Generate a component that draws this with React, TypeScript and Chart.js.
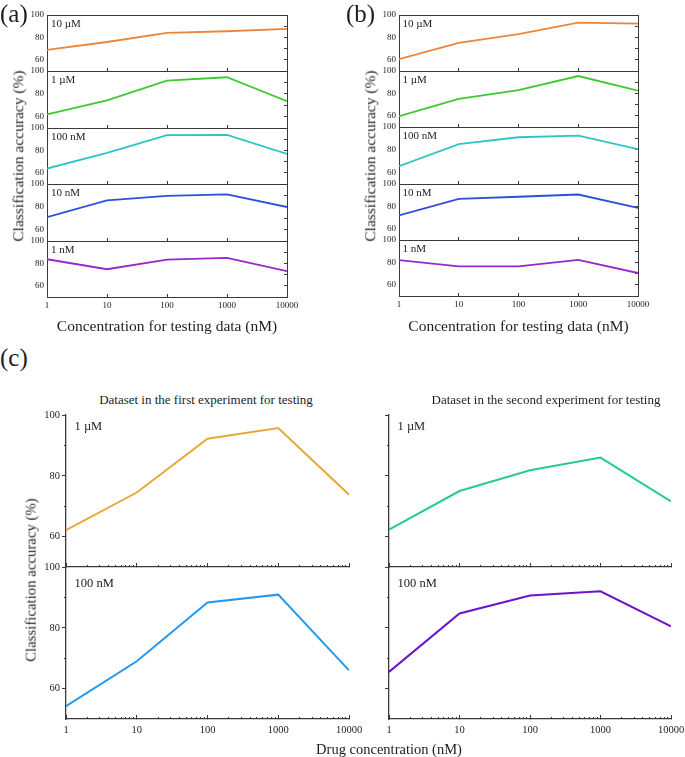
import React, { useEffect, useRef } from "react";
import { Chart, registerables } from "chart.js";

Chart.register(...registerables);

// ---------- data ----------
const CONCENTRATIONS = [1, 10, 100, 1000, 10000];
const X_TICK_LABELS = ["1", "10", "100", "1000", "10000"];
const Y_MAJOR_TICKS = [60, 80, 100];
const Y_MINOR_TICKS = [70, 90];
const Y_RIGHT_TICKS = [60, 70, 80, 90];
const X_MIN = 1;
const X_MAX = 10000;
const Y_MIN = 50;
const Y_MAX = 100;

const TRAIN_LABELS = ["10 µM", "1 µM", "100 nM", "10 nM", "1 nM"];

// panel (a)
const A_10uM = [68.8, 75.9, 84.0, 85.5, 87.6];
const A_1uM = [62.0, 74.3, 91.6, 94.5, 73.5];
const A_100nM = [63.8, 77.8, 93.6, 93.9, 76.9];
const A_10nM = [71.0, 85.6, 89.5, 90.9, 79.8];
const A_1nM = [83.7, 74.8, 83.4, 84.9, 73.0];

// panel (b)
const B_10uM = [60.5, 75.2, 83.0, 93.2, 92.3];
const B_1uM = [59.7, 75.2, 83.0, 95.5, 82.4];
const B_100nM = [65.7, 85.0, 91.0, 92.5, 80.5];
const B_10nM = [72.0, 86.8, 88.6, 90.6, 78.6];
const B_1nM = [82.0, 76.5, 76.5, 82.2, 70.5];

// panel (c)
const C_FIRST_1uM = [62.1, 74.5, 92.2, 95.7, 73.8];
const C_FIRST_100nM = [54.2, 69.0, 88.3, 90.9, 66.0];
const C_SECOND_1uM = [62.3, 75.0, 81.8, 86.0, 71.6];
const C_SECOND_100nM = [65.5, 84.7, 90.6, 92.0, 80.5];

const C_LABELS = ["1 µM", "100 nM"];

const AB_COLORS = ["#EE8536", "#3BCB2E", "#2EC5C7", "#2D4FDC", "#9A27C9"];
const C_COLORS = { first1uM: "#E5A93A", first100nM: "#2299EE", second1uM: "#25CC8C", second100nM: "#6A14CC" };

// ---------- layout ----------
const FONT = "'Liberation Serif', 'Times New Roman', serif";
const ROWS_A = [15, 71, 128, 184, 241, 297];
const ROWS_B = [15, 71, 127, 184, 240, 296];

type Spec = {
  id: string;
  values: number[];
  color: string;
  label: string;
  left: number;
  top: number;
  width: number;
  height: number;
  style: "box" | "open";
  showX: boolean;
  showY: boolean;
  labelDx: number;
  labelDy: number;
};

function geometry(s: Spec) {
  const box = s.style === "box";
  const L = box ? 30 : 40;
  const T = 8;
  const R = 22;
  const XH = s.showX ? 24 : 0;
  const PB = s.showX ? 0 : 3;
  return { L, T, R, XH, PB, cw: L + s.width + R, ch: T + s.height + XH + PB };
}

const labelPlugin = {
  id: "subLabel",
  afterDraw(chart: any, _args: any, opts: any) {
    const { ctx, chartArea } = chart;
    ctx.save();
    ctx.font = opts.font;
    ctx.fillStyle = opts.color;
    ctx.textAlign = "left";
    ctx.textBaseline = "alphabetic";
    ctx.fillText(opts.text, chartArea.left + opts.dx, chartArea.top + opts.dy);
    ctx.restore();
  },
};

function buildConfig(s: Spec): any {
  const box = s.style === "box";
  const g = geometry(s);
  const axisColor = "#3a3a3a";
  const textColor = "#222";
  const bw = box ? 1 : 1.3;
  const tickFont = { family: FONT, size: box ? 9 : 10.5 };
  const zeroPad = (sc: any) => {
    sc.paddingLeft = 0;
    sc.paddingRight = 0;
    sc.paddingTop = 0;
    sc.paddingBottom = 0;
  };
  const fixW = (w: number) => (sc: any) => {
    sc.width = w;
    zeroPad(sc);
  };
  const fixH = (h: number) => (sc: any) => {
    sc.height = h;
    zeroPad(sc);
  };
  const setTicks = (vals: number[]) => (sc: any) => {
    sc.ticks = vals.map((v) => ({ value: v }));
  };
  const minorX: number[] = [];
  for (let i = 0; i < CONCENTRATIONS.length - 1; i++) {
    for (let m = 2; m < 10; m++) minorX.push(CONCENTRATIONS[i] * m);
  }
  const logBase = { type: "logarithmic", axis: "x", min: X_MIN, max: X_MAX, display: true };
  const linBase = { type: "linear", axis: "y", min: Y_MIN, max: Y_MAX, display: true };
  const scales: any = {
    x: {
      ...logBase,
      position: "bottom",
      weight: 1,
      afterBuildTicks: setTicks(CONCENTRATIONS),
      afterFit: fixH(g.XH),
      ticks: {
        display: s.showX,
        autoSkip: false,
        maxRotation: 0,
        minRotation: 0,
        font: tickFont,
        color: textColor,
        padding: box ? 6 : 9,
        callback: (v: any) => {
          const i = CONCENTRATIONS.indexOf(Number(v));
          return i >= 0 ? X_TICK_LABELS[i] : "";
        },
      },
      grid: { drawOnChartArea: false, drawTicks: true, tickLength: box ? -3 : -4, tickColor: axisColor, tickWidth: 1 },
      border: { display: true, color: axisColor, width: bw },
    },
    y: {
      ...linBase,
      position: "left",
      weight: 1,
      afterBuildTicks: setTicks(Y_MAJOR_TICKS),
      afterFit: fixW(g.L),
      ticks: {
        display: s.showY,
        font: tickFont,
        color: textColor,
        padding: box ? 3 : 2,
        callback: (v: any) => String(v),
      },
      grid: { drawOnChartArea: false, drawTicks: !box, tickLength: 4, tickColor: axisColor, tickWidth: 1 },
      border: { display: true, color: axisColor, width: bw },
    },
  };
  if (box) {
    scales.xTop = {
      ...logBase,
      position: "top",
      afterFit: fixH(0),
      ticks: { display: false },
      grid: { drawOnChartArea: false, drawTicks: false },
      border: { display: true, color: axisColor, width: bw },
    };
    scales.yRight = {
      ...linBase,
      position: "right",
      afterBuildTicks: setTicks(Y_RIGHT_TICKS),
      afterFit: fixW(0),
      ticks: { display: false },
      grid: { drawOnChartArea: false, drawTicks: true, tickLength: -3, tickColor: axisColor, tickWidth: 1 },
      border: { display: true, color: axisColor, width: bw },
    };
  } else {
    scales.xMinor = {
      ...logBase,
      position: "bottom",
      weight: 0,
      afterBuildTicks: setTicks(minorX),
      afterFit: fixH(0),
      ticks: { display: false, autoSkip: false },
      grid: { drawOnChartArea: false, drawTicks: true, tickLength: -2, tickColor: axisColor, tickWidth: 1 },
      border: { display: false },
    };
    scales.yMinor = {
      ...linBase,
      position: "left",
      weight: 0,
      afterBuildTicks: setTicks(Y_MINOR_TICKS),
      afterFit: fixW(0),
      ticks: { display: false },
      grid: { drawOnChartArea: false, drawTicks: true, tickLength: 2, tickColor: axisColor, tickWidth: 1 },
      border: { display: false },
    };
  }
  return {
    type: "line",
    data: {
      datasets: [
        {
          data: CONCENTRATIONS.map((c, i) => ({ x: c, y: s.values[i] })),
          borderColor: s.color,
          backgroundColor: s.color,
          borderWidth: box ? 1.8 : 2,
          pointRadius: 0,
          tension: 0,
          fill: false,
        },
      ],
    },
    options: {
      responsive: false,
      animation: false,
      devicePixelRatio: 1,
      events: [],
      layout: { padding: { left: 0, top: g.T, right: g.R, bottom: g.PB }, autoPadding: false },
      plugins: {
        legend: { display: false },
        tooltip: { enabled: false },
        title: { display: false },
        subLabel: {
          text: s.label,
          font: `${box ? 11 : 12.5}px ${FONT}`,
          color: textColor,
          dx: s.labelDx,
          dy: s.labelDy,
        },
      },
      scales,
    },
    plugins: [labelPlugin],
  };
}

function SubPlot({ spec }: { spec: Spec }) {
  const ref = useRef<HTMLCanvasElement | null>(null);
  const g = geometry(spec);
  useEffect(() => {
    if (!ref.current) return;
    const chart = new Chart(ref.current, buildConfig(spec));
    return () => chart.destroy();
  }, []);
  return (
    <canvas
      ref={ref}
      width={g.cw}
      height={g.ch}
      style={{ position: "absolute", left: spec.left - g.L, top: spec.top - g.T, width: g.cw, height: g.ch }}
    />
  );
}

function Txt(props: {
  text: string;
  x: number;
  y: number;
  size: number;
  mode: "baselineLeft" | "center" | "centerRot" | "baselineCenter";
}) {
  const { text, x, y, size, mode } = props;
  const base: React.CSSProperties = {
    position: "absolute",
    fontFamily: FONT,
    fontSize: size,
    lineHeight: `${size}px`,
    whiteSpace: "nowrap",
    color: "#1e1e1e",
  };
  let style: React.CSSProperties;
  if (mode === "baselineLeft") {
    style = { ...base, left: x, top: y - 0.8375 * size };
  } else if (mode === "baselineCenter") {
    style = { ...base, left: x, top: y - 0.8375 * size, transform: "translateX(-50%)" };
  } else if (mode === "center") {
    style = { ...base, left: x, top: y, transform: "translate(-50%, -50%)" };
  } else {
    style = { ...base, left: x, top: y, transform: "translate(-50%, -50%) rotate(-90deg)" };
  }
  return <div style={style}>{text}</div>;
}

const PANEL_A_SERIES = [A_10uM, A_1uM, A_100nM, A_10nM, A_1nM];
const PANEL_B_SERIES = [B_10uM, B_1uM, B_100nM, B_10nM, B_1nM];

function buildSpecs(): Spec[] {
  const specs: Spec[] = [];
  PANEL_A_SERIES.forEach((vals, i) => {
    specs.push({
      id: `a${i}`,
      values: vals,
      color: AB_COLORS[i],
      label: TRAIN_LABELS[i],
      left: 47,
      top: ROWS_A[i],
      width: 240,
      height: ROWS_A[i + 1] - ROWS_A[i],
      style: "box",
      showX: i === PANEL_A_SERIES.length - 1,
      showY: true,
      labelDx: 4,
      labelDy: 11.7,
    });
  });
  PANEL_B_SERIES.forEach((vals, i) => {
    specs.push({
      id: `b${i}`,
      values: vals,
      color: AB_COLORS[i],
      label: TRAIN_LABELS[i],
      left: 399,
      top: ROWS_B[i],
      width: 239,
      height: ROWS_B[i + 1] - ROWS_B[i],
      style: "box",
      showX: i === PANEL_B_SERIES.length - 1,
      showY: true,
      labelDx: 3.5,
      labelDy: 11.5,
    });
  });
  const cCols = [
    { left: 66, width: 283, showY: true, series: [C_FIRST_1uM, C_FIRST_100nM], colors: [C_COLORS.first1uM, C_COLORS.first100nM] },
    { left: 389, width: 282, showY: false, series: [C_SECOND_1uM, C_SECOND_100nM], colors: [C_COLORS.second1uM, C_COLORS.second100nM] },
  ];
  const cRows = [415, 567, 719];
  const cDy = [14.8, 19.5];
  cCols.forEach((col, ci) => {
    col.series.forEach((vals, ri) => {
      specs.push({
        id: `c${ci}${ri}`,
        values: vals,
        color: col.colors[ri],
        label: C_LABELS[ri],
        left: col.left,
        top: cRows[ri],
        width: col.width,
        height: cRows[ri + 1] - cRows[ri],
        style: "open",
        showX: ri === 1,
        showY: col.showY,
        labelDx: 8.5,
        labelDy: cDy[ri],
      });
    });
  });
  return specs;
}

export default function App() {
  const specs = buildSpecs();
  return (
    <div
      style={{
        position: "absolute",
        left: 0,
        top: 0,
        width: 685,
        height: 757,
        background: "#ffffff",
        overflow: "hidden",
      }}
    >
      {specs.map((s) => (
        <SubPlot key={s.id} spec={s} />
      ))}
      <Txt text="(a)" x={0} y={21.5} size={25} mode="baselineLeft" />
      <Txt text="(b)" x={346} y={21.5} size={25} mode="baselineLeft" />
      <Txt text="(c)" x={0} y={366} size={25} mode="baselineLeft" />
      <Txt text="Classification accuracy (%)" x={17.5} y={156} size={15.5} mode="centerRot" />
      <Txt text="Classification accuracy (%)" x={370} y={156} size={15.5} mode="centerRot" />
      <Txt text="Concentration for testing data (nM)" x={167} y={326} size={15.5} mode="center" />
      <Txt text="Concentration for testing data (nM)" x={518.5} y={326} size={15.5} mode="center" />
      <Txt text="Dataset in the first experiment for testing" x={206} y={404} size={13} mode="baselineCenter" />
      <Txt text="Dataset in the second experiment for testing" x={546} y={404} size={13} mode="baselineCenter" />
      <Txt text="Classification accuracy (%)" x={31} y={580} size={14.8} mode="centerRot" />
      <Txt text="Drug concentration (nM)" x={389} y={749} size={14.5} mode="center" />
    </div>
  );
}
